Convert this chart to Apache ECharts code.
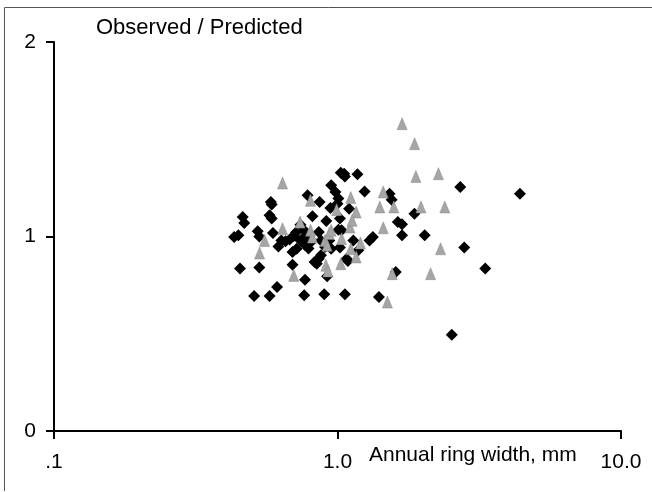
<!DOCTYPE html>
<html>
<head>
<meta charset="utf-8">
<script src="https://cdn.jsdelivr.net/npm/echarts@6/dist/echarts.min.js"></script>
<style>html,body{margin:0;padding:0;background:#fff}#c{width:652px;height:492px}</style>
</head>
<body>
<div id="c"></div>
<script>
// Black diamonds: annual ring width (mm) and observed/predicted ratio
var diamondX = [0.432,0.447,0.463,0.469,0.453,0.523,0.53,0.53,0.508,0.576,0.612,0.582,0.586,0.576,0.586,0.592,0.619,
  0.634,0.656,0.678,0.701,0.713,0.694,0.694,0.768,0.763,0.898,1.062,1.40,0.784,0.865,0.816,
  0.74,0.762,0.775,0.74,0.77,0.80,0.79,0.859,0.874,0.913,0.95,0.983,1.007,1.0,0.944,1.027,1.056,1.062,
  1.176,1.246,1.099,1.02,1.034,1.007,0.935,0.95,0.904,0.83,0.859,0.874,0.845,1.02,1.077,1.088,1.137,1.184,
  1.297,1.333,1.526,1.552,1.632,1.689,1.689,1.868,2.03,1.605,2.71,2.80,3.32,4.40,2.53,0.919,0.718];
var diamondY = [0.997,1.006,1.10,1.07,0.835,1.027,1.0,0.84,0.694,0.694,0.74,1.177,1.165,1.109,1.092,1.018,0.949,
  0.98,0.975,0.985,1.003,1.02,0.92,0.855,0.778,0.698,0.703,0.703,0.689,1.212,1.177,1.104,
  1.06,1.032,1.006,0.98,0.955,0.967,0.938,1.023,0.98,1.08,1.263,1.229,1.195,1.169,1.147,1.328,1.323,1.309,
  1.32,1.232,1.143,1.092,1.032,1.035,0.98,0.937,0.946,0.869,0.886,0.903,0.86,0.943,0.886,0.874,0.98,0.929,
  0.98,0.997,1.22,1.189,1.074,1.063,1.006,1.117,1.006,0.817,1.254,0.943,0.835,1.22,0.495,0.795,0.937];
// Gray triangles
var triangleX = [1.69,1.87,1.89,2.27,1.97,2.39,2.31,2.13,1.50,1.56,1.45,1.41,1.58,1.45,0.64,0.803,1.114,1.164,0.993,
  0.531,0.553,0.64,0.701,0.738,0.803,0.816,0.904,0.935,0.95,0.919,0.91,0.925,1.027,1.034,1.107,1.126,1.114,1.164,1.205];
var triangleY = [1.58,1.477,1.309,1.323,1.152,1.152,0.937,0.809,0.663,0.809,1.229,1.152,1.152,1.045,1.275,1.186,1.2,1.126,1.138,
  0.915,0.98,1.04,0.8,1.074,1.032,0.997,0.98,1.015,1.032,0.955,0.852,0.823,0.86,0.989,1.049,1.083,0.937,0.895,0.967];
var xTickValues = [0.1, 1, 10];
var xTickLabels = ['.1', '1.0', '10.0'];
var yTickLabels = ['0', '1', '2'];

function pairs(xs, ys){ return xs.map(function(x,i){ return [x, ys[i]]; }); }

var font = 'Liberation Sans, Arial, Helvetica, sans-serif';
var chart = echarts.init(document.getElementById('c'), null, {renderer:'canvas'});
chart.setOption({
  animation: false,
  backgroundColor: '#fff',
  grid: {left: 54, right: 31, top: 42, bottom: 61, containLabel: false},
  xAxis: {
    type: 'log', logBase: 10, min: 0.1, max: 10,
    axisLine: {show: true, onZero: false, lineStyle: {color: '#000', width: 2}},
    axisTick: {show: true, inside: false, length: 8, lineStyle: {color: '#000', width: 2}},
    minorTick: {show: false},
    splitLine: {show: false},
    axisLabel: {
      margin: 21, color: '#000', fontSize: 21, fontFamily: font,
      formatter: function(v){ var i = xTickValues.findIndex(function(t){ return Math.abs(t - v) < 1e-9; }); return i >= 0 ? xTickLabels[i] : ''; }
    }
  },
  yAxis: {
    type: 'value', min: 0, max: 2, interval: 1,
    axisLine: {show: true, lineStyle: {color: '#000', width: 2}},
    axisTick: {show: true, inside: false, length: 8, lineStyle: {color: '#000', width: 2}},
    splitLine: {show: false},
    axisLabel: {margin: 18, color: '#000', fontSize: 21, fontFamily: font,
      formatter: function(v){ return yTickLabels[Math.round(v)]; }}
  },
  graphic: [
    {type: 'polyline', shape: {points: [[4.5, 491], [4.5, 7.5], [652, 7.5]]}, style: {fill: 'none', stroke: '#555', lineWidth: 1}, silent: true, z: -1},
    {type: 'text', left: 96, top: 17, style: {text: 'Observed / Predicted', font: '22px ' + font, fill: '#000'}},
    {type: 'text', left: 369, top: 445, style: {text: 'Annual ring width, mm', font: '21px ' + font, fill: '#000'}}
  ],
  series: [
    {type: 'scatter', name: 'diamonds', symbol: 'diamond', symbolSize: 12,
      itemStyle: {color: '#000', opacity: 1}, data: pairs(diamondX, diamondY)},
    {type: 'scatter', name: 'triangles', symbol: 'triangle', symbolSize: [10, 12],
      itemStyle: {color: '#a6a6a6', borderColor: '#888', borderWidth: 0.5, opacity: 1}, data: pairs(triangleX, triangleY)}
  ]
});
</script>
</body>
</html>
